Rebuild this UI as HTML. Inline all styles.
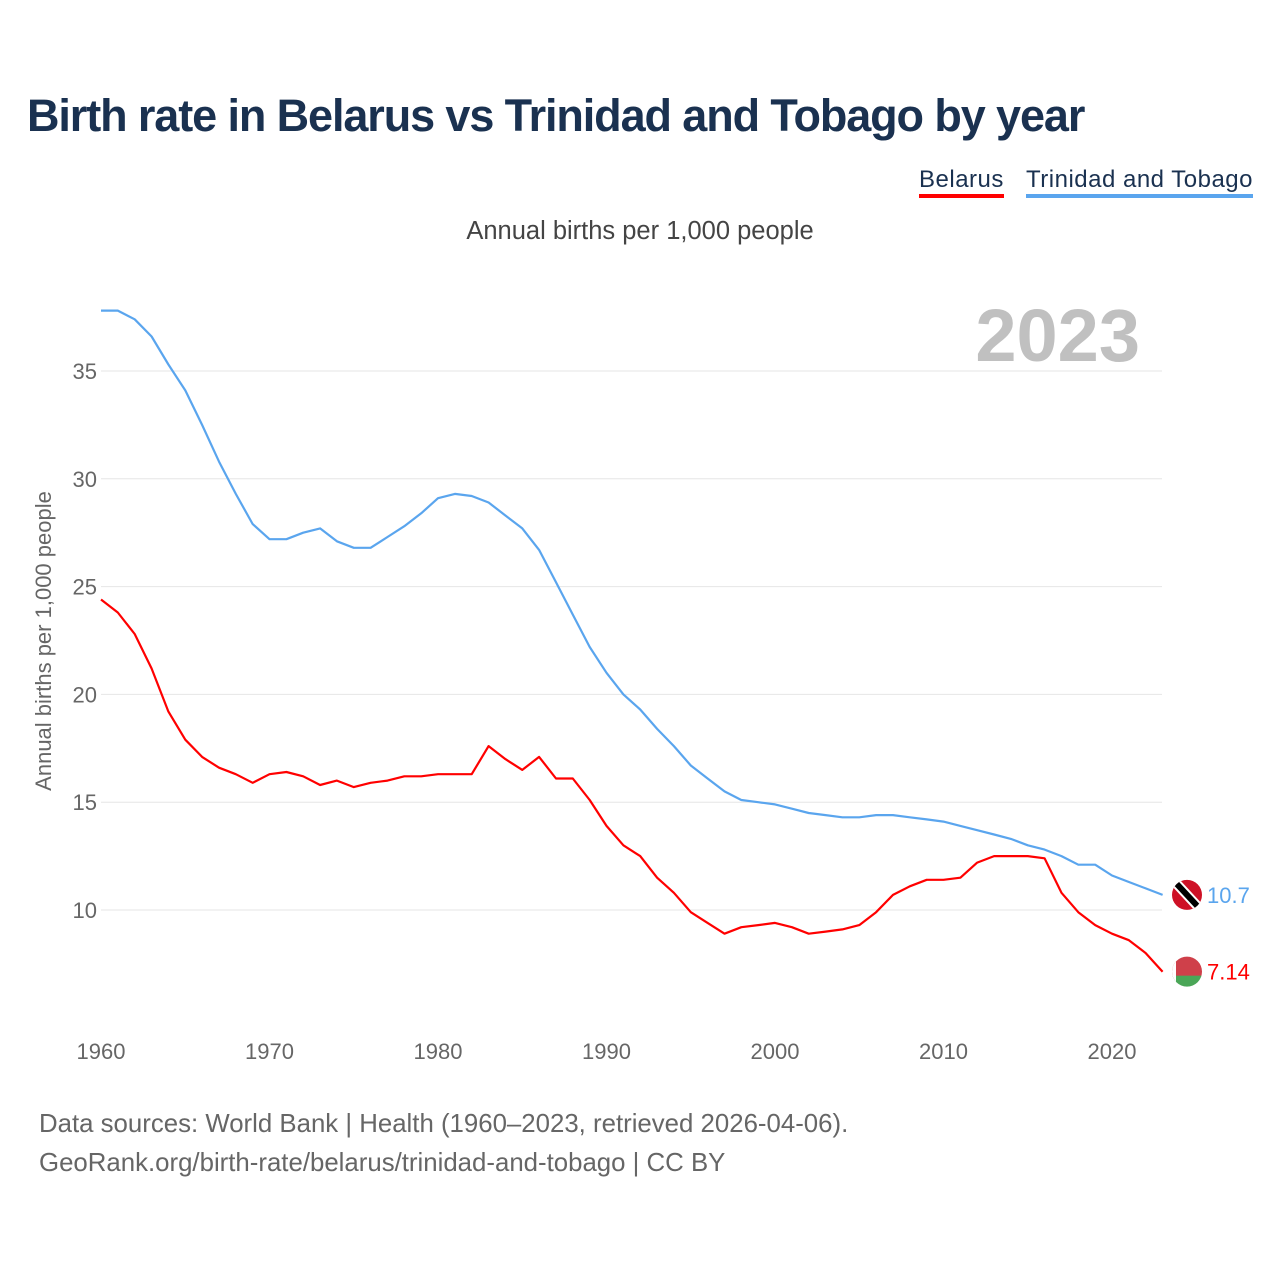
<!DOCTYPE html>
<html><head><meta charset="utf-8">
<style>
html,body{margin:0;padding:0;background:#fff;}
body{width:1280px;height:1280px;position:relative;font-family:"Liberation Sans",sans-serif;overflow:hidden;}
.t{position:absolute;white-space:nowrap;}
</style></head>
<body>
<div class="t" style="left:27px;top:90px;font-size:45px;font-weight:bold;color:#1a3150;letter-spacing:-1.1px;">Birth rate in Belarus vs Trinidad and Tobago by year</div>
<div class="t" style="left:919px;top:166px;font-size:24px;color:#1a3150;border-bottom:4px solid #f00;letter-spacing:0.5px;">Belarus</div>
<div class="t" style="left:1026px;top:166px;font-size:24px;color:#1a3150;border-bottom:4px solid #5aa5ee;letter-spacing:0.5px;">Trinidad and Tobago</div>
<div class="t" style="left:0;width:1280px;text-align:center;top:217px;font-size:25.5px;color:#444;">Annual births per 1,000 people</div>
<div class="t" style="left:39px;top:1105px;font-size:25.8px;color:#666;line-height:39px;">Data sources: World Bank | Health (1960–2023, retrieved 2026-04-06).<br>GeoRank.org/birth-rate/belarus/trinidad-and-tobago | CC BY</div>
<svg id="chart" width="1280" height="1280" style="position:absolute;left:0;top:0;" xmlns="http://www.w3.org/2000/svg"></svg>
<script>
const years = [];
for (let y = 1960; y <= 2023; y++) years.push(y);
const trinidad = [37.8,37.8,37.4,36.6,35.3,34.1,32.5,30.8,29.3,27.9,27.2,27.2,27.5,27.7,27.1,26.8,26.8,27.3,27.8,28.4,29.1,29.3,29.2,28.9,28.3,27.7,26.7,25.2,23.7,22.2,21.0,20.0,19.3,18.4,17.6,16.7,16.1,15.5,15.1,15.0,14.9,14.7,14.5,14.4,14.3,14.3,14.4,14.4,14.3,14.2,14.1,13.9,13.7,13.5,13.3,13.0,12.8,12.5,12.1,12.1,11.6,11.3,11.0,10.7];
const belarus = [24.4,23.8,22.8,21.2,19.2,17.9,17.1,16.6,16.3,15.9,16.3,16.4,16.2,15.8,16.0,15.7,15.9,16.0,16.2,16.2,16.3,16.3,16.3,17.6,17.0,16.5,17.1,16.1,16.1,15.1,13.9,13.0,12.5,11.5,10.8,9.9,9.4,8.9,9.2,9.3,9.4,9.2,8.9,9.0,9.1,9.3,9.9,10.7,11.1,11.4,11.4,11.5,12.2,12.5,12.5,12.5,12.4,10.8,9.9,9.3,8.9,8.6,8.0,7.14];
const yTicks = [10,15,20,25,30,35];
const xTicks = [1960,1970,1980,1990,2000,2010,2020];
const NS = "http://www.w3.org/2000/svg";
const svg = document.getElementById('chart');
const X = y => 101 + (y - 1960) * (1011 / 60);
const Y = v => 910 - (v - 10) * 21.56;
function mk(tag, attrs, parent) {
  const e = document.createElementNS(NS, tag);
  for (const k in attrs) e.setAttribute(k, attrs[k]);
  (parent || svg).appendChild(e);
  return e;
}
yTicks.forEach(v => {
  const l = mk('line', {x1: 101, x2: 1162, y1: Y(v), y2: Y(v), stroke: '#e6e6e6', 'stroke-width': 1});
  
  
  const t = mk('text', {x: 97, y: Y(v) + 8, 'text-anchor': 'end', 'font-size': 22, fill: '#666', 'font-family': 'Liberation Sans, sans-serif'});
  t.textContent = v;
  
  
});
xTicks.forEach(v => {
  const t = mk('text', {x: X(v), y: 1059, 'text-anchor': 'middle', 'font-size': 22, fill: '#666', 'font-family': 'Liberation Sans, sans-serif'});
  t.textContent = v;
  
  
});
const yt = mk('text', {x: 0, y: 0, transform: 'translate(51,641) rotate(-90)', 'text-anchor': 'middle', 'font-size': 22, fill: '#666', 'font-family': 'Liberation Sans, sans-serif'});
yt.textContent = 'Annual births per 1,000 people';


const yr = mk('text', {x: 1140, y: 361, 'text-anchor': 'end', 'font-size': 74, 'font-weight': 'bold', fill: '#c0c0c0', 'font-family': 'Liberation Sans, sans-serif'});
yr.textContent = '2023';


function line(data, color, name) {
  const d = data.map((v, i) => (i ? 'L' : 'M') + X(years[i]).toFixed(1) + ',' + Y(v).toFixed(1)).join('');
  const p = mk('path', {d: d, fill: 'none', stroke: color, 'stroke-width': 2.2, 'stroke-linejoin': 'round'});
  
  
}
line(trinidad, '#5aa5ee', 'line-trinidad');
line(belarus, '#ff0000', 'line-belarus');
const ty = Y(trinidad[trinidad.length - 1]), by = Y(belarus[belarus.length - 1]);
const defs = mk('defs', {});
const c1 = mk('clipPath', {id: 'c1'}, defs); mk('circle', {cx: 1187, cy: ty, r: 15}, c1);
const c2 = mk('clipPath', {id: 'c2'}, defs); mk('circle', {cx: 1187, cy: by, r: 15}, c2);
const g1 = mk('g', {'clip-path': 'url(#c1)'});


mk('rect', {x: 1170, y: ty - 17, width: 34, height: 34, fill: '#ce1126'}, g1);
mk('line', {x1: 1174, y1: ty - 14, x2: 1200, y2: ty + 14, stroke: '#fff', 'stroke-width': 10}, g1);
mk('line', {x1: 1174, y1: ty - 14, x2: 1200, y2: ty + 14, stroke: '#000', 'stroke-width': 6}, g1);
const g2 = mk('g', {'clip-path': 'url(#c2)'});


mk('rect', {x: 1170, y: by - 17, width: 34, height: 22, fill: '#cf404a'}, g2);
mk('rect', {x: 1170, y: by + 4, width: 34, height: 14, fill: '#4aa657'}, g2);
mk('rect', {x: 1170, y: by - 17, width: 6, height: 34, fill: '#fff'}, g2);
const l1 = mk('text', {x: 1207, y: ty + 8, 'font-size': 22, fill: '#5aa5ee', 'font-family': 'Liberation Sans, sans-serif'});
l1.textContent = '10.7';


const l2 = mk('text', {x: 1207, y: by + 8, 'font-size': 22, fill: '#ff0000', 'font-family': 'Liberation Sans, sans-serif'});
l2.textContent = '7.14';


</script>
</body></html>
